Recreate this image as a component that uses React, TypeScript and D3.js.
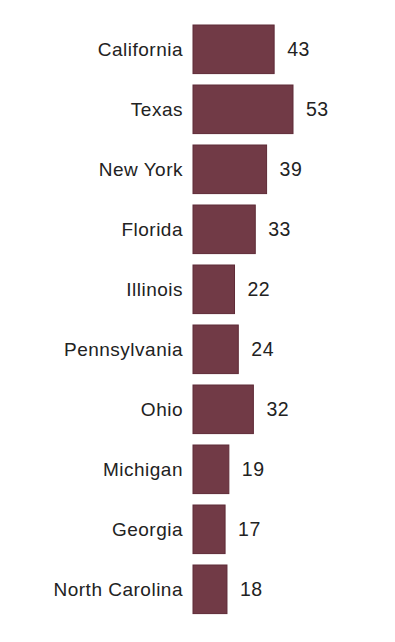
import React from "react";
import { scaleBand, scaleLinear } from "d3";

const states = [
  "California",
  "Texas",
  "New York",
  "Florida",
  "Illinois",
  "Pennsylvania",
  "Ohio",
  "Michigan",
  "Georgia",
  "North Carolina",
];
const values = [43, 53, 39, 33, 22, 24, 32, 19, 17, 18];

function App() {
  const width = 395;
  const height = 642;
  const x0 = 193;

  // step 60, bar 48.6
  const y = scaleBand<string>()
    .domain(states)
    .range([25, 613.6])
    .paddingInner(0.19)
    .paddingOuter(0);
  const x = scaleLinear().domain([0, 53]).range([x0, 293]);

  return (
    <svg
      width={width}
      height={height}
      style={{ position: "absolute", left: 0, top: 0, background: "#fff" }}
    >
      {states.map((s, i) => {
        const yy = y(s)!;
        const cy = yy + y.bandwidth() / 2;
        return (
          <g key={s}>
            <rect
              x={x(0)}
              y={yy}
              width={x(values[i]) - x(0)}
              height={y.bandwidth()}
              fill="#713a46"
              stroke="#5e2a36"
              strokeWidth={1}
            />
            <text
              x={x0 - 10}
              y={cy}
              textAnchor="end"
              dominantBaseline="central"
              fontFamily="Liberation Sans, Arial, sans-serif"
              fontSize={19}
              letterSpacing={0.5}
              fill="#222"
            >
              {s}
            </text>
            <text
              x={x(values[i]) + 13}
              y={cy}
              dominantBaseline="central"
              fontFamily="Liberation Sans, Arial, sans-serif"
              fontSize={19.5}
              letterSpacing={0.5}
              fill="#222"
            >
              {values[i]}
            </text>
          </g>
        );
      })}
    </svg>
  );
}

export default App;
